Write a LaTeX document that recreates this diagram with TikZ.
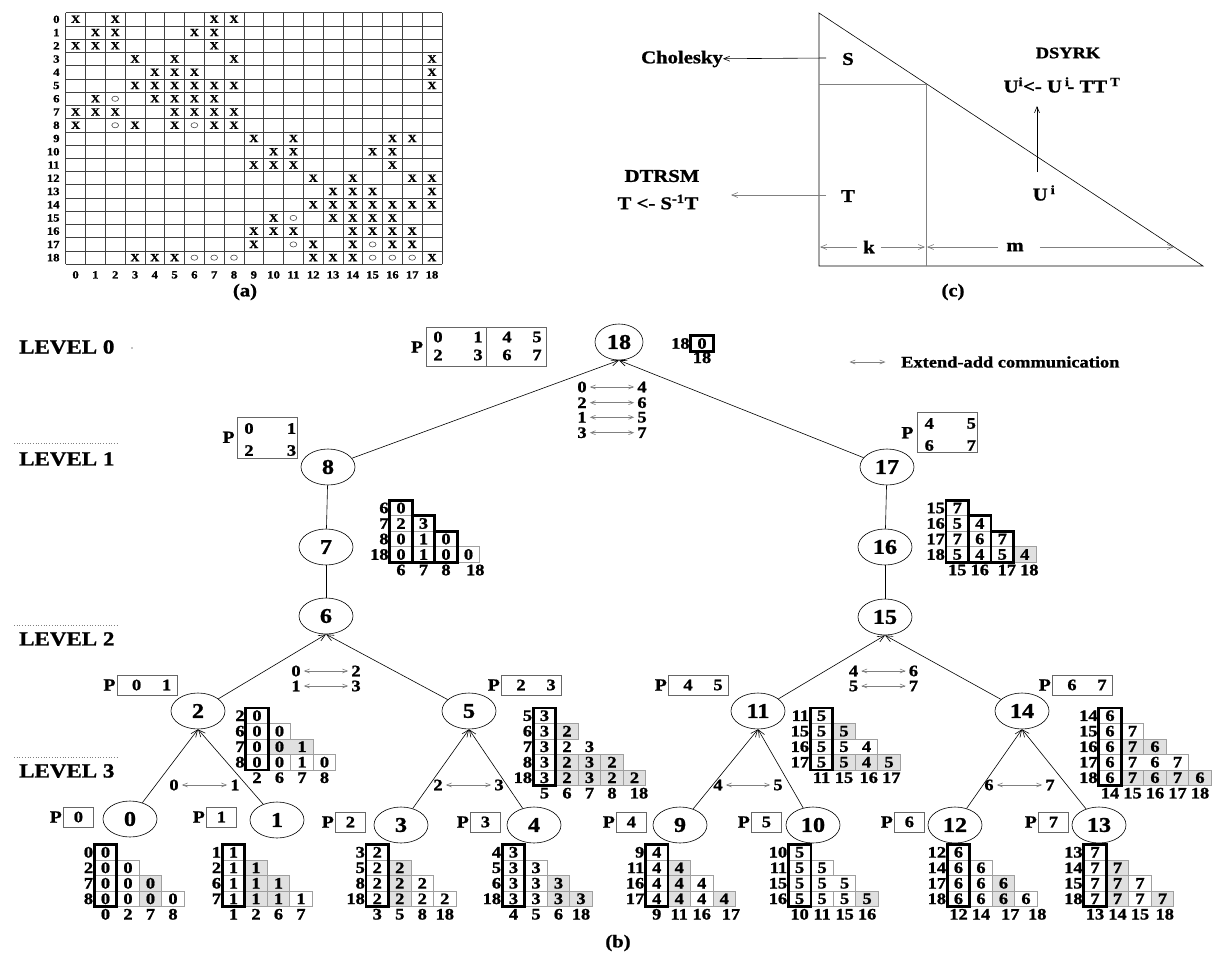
\documentclass[tikz,border=0pt]{standalone}
\usepackage{fontspec}
\setmainfont{Liberation Serif}[FakeStretch=1.15,BoldFeatures={FakeBold=1.2}]
\usetikzlibrary{shapes.geometric,arrows.meta}
\newcommand\fs[1]{\fontsize{#1}{#1}\selectfont\bfseries}
\definecolor{shadec}{gray}{0.88}
\newcommand\cellW[3]{\draw[cellb] (#1-0.5,#2-0.5) rectangle (#1+0.5,#2+0.5); \node[ctxt] at (#1,#2) {#3};}
\newcommand\cellS[3]{\filldraw[cellb,fill=shadec] (#1-0.5,#2-0.5) rectangle (#1+0.5,#2+0.5); \node[ctxt] at (#1,#2) {#3};}
\newcommand\cellT[3]{\node[ctxt] at (#1,#2) {#3};}
\newcommand\blkW[3]{\draw[cellb] (#1-0.5,#3-0.5) rectangle (#2+0.5,#3+0.5);}
\newcommand\blkS[3]{\filldraw[cellb,fill=shadec] (#1-0.5,#3-0.5) rectangle (#2+0.5,#3+0.5);}
\newcommand\rowL[2]{\node[rlab] at (-0.5,#1) {#2};}
\newcommand\colL[3]{\node[clab] at (#1,#2) {#3};}
\newcommand\thickC[3]{\draw[thickc] (#1-0.5,#2-0.5) rectangle (#1+0.5,#3+0.5);}
\newcommand\commA[6]{\node[ctxt] (#1a) at (#2,#4) {#5}; \node[ctxt] (#1b) at (#3,#4) {#6}; \draw[comm] (#1a) -- (#1b);}
\newcommand\pOne[4]{\node[plab,anchor=east] at (#1-1,#2) {P}; \node[pb,minimum width=30pt,anchor=west] (#4) at (#1,#2) {#3};}
\newcommand\pTwo[5]{\node[plab,anchor=east] at (#1-1,#2) {P}; \node[pb,minimum width=60pt,anchor=west] (#5) at (#1,#2) {}; \node[ctxt] at (#1+20,#2) {#3}; \node[ctxt] at (#1+50,#2) {#4};}
\begin{document}
\begin{tikzpicture}[x=1pt,y=-1pt,
  tn/.style={ellipse,draw,line width=0.6pt,minimum width=54pt,minimum height=36pt,inner sep=0pt,font=\fs{21}},
  cellb/.style={draw=gray!75,line width=0.8pt},
  thickc/.style={draw=black,line width=2.6pt},
  ctxt/.style={inner sep=0pt,font=\fs{16}},
  rlab/.style={anchor=east,inner sep=1pt,font=\fs{16}},
  clab/.style={inner sep=0pt,font=\fs{16}},
  tri/.style={x=22.5pt,y=-15.5pt},
  lvl/.style={anchor=west,inner sep=0pt,font=\fs{20}},
  edge/.style={-{Straight Barb[length=7pt,width=6pt]},line width=0.6pt},
  comm/.style={{Straight Barb[length=5pt,width=4pt]}-{Straight Barb[length=5pt,width=4pt]},draw=gray,line width=0.6pt,shorten <=3pt,shorten >=3pt},
  pb/.style={draw=black!60,line width=0.8pt,minimum height=20pt,inner sep=0pt,font=\fs{16}},
  plab/.style={inner sep=0pt,font=\fs{17}},
  dotl/.style={dotted,draw=gray,line width=0.7pt},
  gridl/.style={draw=black!75,line width=0.7pt},
  alab/.style={inner sep=0pt,font=\fs{11}},
  xm/.style={inner sep=0pt,font=\fs{11}},
  om/.style={draw=black!70,line width=0.6pt},
  ctext/.style={inner sep=0pt,font=\fs{18}},
  arr/.style={-{Straight Barb[length=6pt,width=5pt]},line width=0.6pt},
  captxt/.style={inner sep=0pt,font=\fs{18}}]
\useasboundingbox (0,0) rectangle (1226,956);
\fill[white] (0,0) rectangle (1226,956);

% ---------------- (a) matrix ----------------
\begin{scope}[shift={(65.7,12.7)},x=19.8pt,y=-13.24pt]
  \foreach \i in {0,...,19} {\draw[gridl] (\i,0) -- (\i,19); \draw[gridl] (0,\i) -- (19,\i);}
  \foreach \i in {0,...,18} {\node[alab,anchor=east] at (-0.3,\i+0.5) {\i}; \node[alab] at (\i+0.5,19.8) {\i};}
  \foreach \r/\lst in {0/{0,2,7,8},1/{1,2,6,7},2/{0,1,2,7},3/{3,5,8,18},4/{4,5,6,18},
     5/{3,4,5,6,7,8,18},6/{1,4,5,6,7},7/{0,1,2,5,6,7,8},8/{0,3,5,7,8},9/{9,11,16,17},
     10/{10,11,15,16},11/{9,10,11,16},12/{12,14,17,18},13/{13,14,15,18},
     14/{12,13,14,15,16,17,18},15/{10,13,14,15,16},16/{9,10,11,14,15,16,17},
     17/{9,12,14,16,17},18/{3,4,5,12,13,14,18}}
    {\foreach \c in \lst {\node[xm] at (\c+0.5,\r+0.5) {X};}}
  \foreach \r/\c in {6/2,8/2,8/6,15/11,17/11,17/15,18/6,18/7,18/8,18/15,18/16,18/17}
    {\draw[om] (\c+0.5,\r+0.5) ellipse [x radius=3.4pt,y radius=2.6pt];}
\end{scope}
\node[captxt] (capa) at (245,292) {(a)};

% ---------------- (c) ----------------
\draw[line width=0.6pt] (819,13) -- (819,266) -- (1203,266) -- cycle;
\draw[gray,line width=0.8pt] (819,84) -- (926,84) -- (926,266);
\node[ctext] (S) at (848,59) {S};
\node[ctext] (T) at (848,196) {T};
\node[ctext] (U) at (1044,193) {U\,\textsuperscript{i}};
\node[ctext] (chol) at (682,59) {Cholesky};
\node[ctext] (dtrsm) at (662,176) {DTRSM};
\node[ctext] (tse) at (658,202) {T <- S\textsuperscript{-1}T};
\node[inner sep=0pt,font=\fs{16}] (dsyrk) at (1068,53) {DSYRK};
\node[ctext] (eq) at (1062,85) {U\textsuperscript{i}<- U\,\textsuperscript{i}\kern-2pt- TT\,\textsuperscript{T}};
\node[ctext] (k) at (869,247) {k};
\node[ctext] (m) at (1015,247) {m};
\node[captxt] (capc) at (953,292) {(c)};
\coordinate (sA) at (826,58);
\draw[arr] (sA) -- (chol);
\coordinate (tA) at (826,195); \coordinate (tB) at (731,195);
\draw[arr,gray] (tA) -- (tB);
\coordinate (u1) at (1037,172); \coordinate (u2) at (1037,106);
\draw[arr] (u1) -- (u2);
\coordinate (kL) at (820,247); \coordinate (kR) at (925,247);
\coordinate (mL) at (927,247); \coordinate (mR) at (1174,247);
\draw[arr,gray,shorten <=6pt] (k) -- (kL);
\draw[arr,gray,shorten <=6pt] (k) -- (kR);
\draw[arr,gray,shorten <=8pt] (m) -- (mL);
\draw[arr,gray,shorten <=16pt] (m) -- (mR);

% ---------------- level labels ----------------
\node[lvl] (L0) at (19,347) {LEVEL 0};
\fill (132,348) circle (0.6pt);
\draw[dotl] (14,443) -- (117,443);
\node[lvl] (L1) at (19,459) {LEVEL 1};
\draw[dotl] (14,625) -- (117,625);
\node[lvl] (L2) at (19,639) {LEVEL 2};
\draw[dotl] (14,757) -- (117,757);
\node[lvl] (L3) at (19,771) {LEVEL 3};

% ---------------- tree nodes ----------------
\node[tn,minimum width=48pt] (n18) at (619,342) {18};
\node[tn] (n8) at (328,467) {8};
\node[tn] (n17) at (887,467) {17};
\node[tn] (n7) at (326,547) {7};
\node[tn] (n16) at (885,547) {16};
\node[tn] (n6) at (326,616) {6};
\node[tn] (n15) at (885,617) {15};
\node[tn] (n2) at (198,711) {2};
\node[tn] (n5) at (469,711) {5};
\node[tn] (n11) at (758,711) {11};
\node[tn] (n14) at (1022,711) {14};
\node[tn] (n0) at (130,819) {0};
\node[tn] (n1) at (277,820) {1};
\node[tn] (n3) at (401,825) {3};
\node[tn] (n4) at (534,825) {4};
\node[tn] (n9) at (680,825) {9};
\node[tn] (n10) at (813,825) {10};
\node[tn] (n12) at (955,825) {12};
\node[tn] (n13) at (1099,825) {13};

\draw[edge] (n8) -- (n18.south);
\draw[edge] (n17) -- (n18.south);
\draw[line width=0.6pt] (n8) -- (n7);
\draw[line width=0.6pt] (n7) -- (n6);
\draw[line width=0.6pt] (n17) -- (n16);
\draw[line width=0.6pt] (n16) -- (n15);
\draw[edge] (n2) -- (n6.south);
\draw[edge] (n5) -- (n6.south);
\draw[edge] (n11) -- (n15.south);
\draw[edge] (n14) -- (n15.south);
\draw[edge] (n0) -- (n2.south);
\draw[edge] (n1) -- (n2.south);
\draw[edge] (n3) -- (n5.south);
\draw[edge] (n4) -- (n5.south);
\draw[edge] (n9) -- (n11.south);
\draw[edge] (n10) -- (n11.south);
\draw[edge] (n12) -- (n14.south);
\draw[edge] (n13) -- (n14.south);

% ---------------- communication labels ----------------
\commA{ca}{582}{642}{387}{0}{4}
\commA{cb}{582}{642}{402.7}{2}{6}
\commA{cc}{582}{642}{417.3}{1}{5}
\commA{cd}{582}{642}{432.7}{3}{7}
\commA{ce}{296}{356}{671}{0}{2}
\commA{cf}{296}{356}{686}{1}{3}
\commA{cg}{853.5}{913.5}{671}{4}{6}
\commA{ch}{853.5}{913.5}{686}{5}{7}
\commA{ci}{174}{235}{785}{0}{1}
\commA{cj}{438}{499}{785}{2}{3}
\commA{ck}{718}{778}{785}{4}{5}
\commA{cl}{989}{1050}{785}{6}{7}
\coordinate (lgA) at (849.5,362); \coordinate (lgB) at (885.5,362);
\draw[comm,shorten <=0pt,shorten >=0pt] (lgA) -- (lgB);
\node[anchor=west,inner sep=0pt,font=\fs{16}] (legend) at (901,362) {Extend-add communication};

% ---------------- processor boxes ----------------
\node[plab] at (417,347) {P};
\draw[draw=black!60,line width=0.8pt] (426,327) rectangle (546.6,366.7);
\draw[draw=black!60,line width=0.8pt] (486,327) -- (486,366.7);
\foreach \xx/\yy/\t in {438/337/0,478/337/1,507/337/4,537/337/5,438/355/2,478/355/3,507/355/6,537/355/7}
  {\node[ctxt] at (\xx,\yy) {\t};}
\node[plab] at (228.5,437.3) {P};
\draw[draw=black!60,line width=0.8pt] (237,417.3) rectangle (297.6,458.3);
\foreach \xx/\yy/\t in {249/428.5/0,291.5/428.5/1,249/450.5/2,291.5/450.5/3}
  {\node[ctxt] at (\xx,\yy) {\t};}
\node[plab] at (907.4,432.7) {P};
\draw[draw=black!60,line width=0.8pt] (917.4,412.7) rectangle (977.2,452.7);
\foreach \xx/\yy/\t in {929.3/423.5/4,971.3/423.5/5,929.3/445.5/6,971.3/445.5/7}
  {\node[ctxt] at (\xx,\yy) {\t};}
\pTwo{116.6}{685}{0}{1}{pb01}
\pTwo{501}{685}{2}{3}{pb23}
\pTwo{668}{685}{4}{5}{pb45}
\pTwo{1052}{685}{6}{7}{pb67}
\pOne{63}{817}{0}{pb0}
\pOne{206}{817}{1}{pb1}
\pOne{335}{822}{2}{pb2}
\pOne{470}{822}{3}{pb3}
\pOne{616}{822}{4}{pb4}
\pOne{751}{822}{5}{pb5}
\pOne{894}{822}{6}{pb6}
\pOne{1038}{822}{7}{pb7}

% ---------------- update matrices ----------------
% level 0
\begin{scope}[shift={(702,343.5)},tri]
  \rowL{0}{18} \cellT{0}{0}{0} \colL{0}{0.92}{18} \thickC{0}{0}{0}
\end{scope}
% node 7
\begin{scope}[shift={(401,508)},tri]
  \rowL{0}{6}\rowL{1}{7}\rowL{2}{8}\rowL{3}{18}
  \cellW{0}{0}{0}
  \cellW{0}{1}{2}\cellW{1}{1}{3}
  \cellW{0}{2}{0}\cellW{1}{2}{1}\cellW{2}{2}{0}
  \cellW{0}{3}{0}\cellW{1}{3}{1}\cellW{2}{3}{0}\cellW{3}{3}{0}
  \colL{0}{4}{6}\colL{1}{4}{7}\colL{2}{4}{8}\colL{3.3}{4}{18}
  \thickC{0}{0}{3}\thickC{1}{1}{3}\thickC{2}{2}{3}
\end{scope}
% node 16
\begin{scope}[shift={(957.3,508)},tri]
  \rowL{0}{15}\rowL{1}{16}\rowL{2}{17}\rowL{3}{18}
  \cellW{0}{0}{7}
  \cellW{0}{1}{5}\cellW{1}{1}{4}
  \cellW{0}{2}{7}\cellW{1}{2}{6}\cellW{2}{2}{7}
  \cellW{0}{3}{5}\cellW{1}{3}{4}\cellW{2}{3}{5}\cellS{3}{3}{4}
  \colL{0}{4}{15}\colL{1}{4}{16}\colL{2.2}{4}{17}\colL{3.2}{4}{18}
  \thickC{0}{0}{3}\thickC{1}{1}{3}\thickC{2}{2}{3}
\end{scope}
% node 2
\begin{scope}[shift={(257,715.7)},tri]
  \rowL{0}{2}\rowL{1}{6}\rowL{2}{7}\rowL{3}{8}
  \cellW{0}{0}{0}
  \cellW{0}{1}{0}\cellW{1}{1}{0}
  \cellW{0}{2}{0}\blkS{1}{2}{2}\cellT{1}{2}{0}\cellT{2}{2}{1}
  \cellW{0}{3}{0}\cellW{1}{3}{0}\cellW{2}{3}{1}\cellW{3}{3}{0}
  \colL{0}{4}{2}\colL{1}{4}{6}\colL{2}{4}{7}\colL{3}{4}{8}
  \thickC{0}{0}{3}
\end{scope}
% node 5
\begin{scope}[shift={(544.5,715.7)},tri]
  \rowL{0}{5}\rowL{1}{6}\rowL{2}{7}\rowL{3}{8}\rowL{4}{18}
  \cellW{0}{0}{3}
  \cellW{0}{1}{3}\cellS{1}{1}{2}
  \cellW{0}{2}{3}\cellT{1}{2}{2}\cellT{2}{2}{3}
  \cellW{0}{3}{3}\cellS{1}{3}{2}\cellS{2}{3}{3}\cellS{3}{3}{2}
  \cellW{0}{4}{3}\cellS{1}{4}{2}\cellS{2}{4}{3}\cellS{3}{4}{2}\cellS{4}{4}{2}
  \colL{0}{5}{5}\colL{1}{5}{6}\colL{2}{5}{7}\colL{3}{5}{8}\colL{4.2}{5}{18}
  \thickC{0}{0}{4}
\end{scope}
% node 11
\begin{scope}[shift={(821.5,715.7)},tri]
  \rowL{0}{11}\rowL{1}{15}\rowL{2}{16}\rowL{3}{17}
  \cellW{0}{0}{5}
  \cellW{0}{1}{5}\cellS{1}{1}{5}
  \cellW{0}{2}{5}\blkW{1}{2}{2}\cellT{1}{2}{5}\cellT{2}{2}{4}
  \cellW{0}{3}{5}\cellS{1}{3}{5}\cellS{2}{3}{4}\cellS{3}{3}{5}
  \colL{0}{4}{11}\colL{1}{4}{15}\colL{2.1}{4}{16}\colL{3.1}{4}{17}
  \thickC{0}{0}{3}
\end{scope}
% node 14
\begin{scope}[shift={(1110,715.7)},tri]
  \rowL{0}{14}\rowL{1}{15}\rowL{2}{16}\rowL{3}{17}\rowL{4}{18}
  \cellW{0}{0}{6}
  \cellW{0}{1}{6}\cellW{1}{1}{7}
  \cellW{0}{2}{6}\cellS{1}{2}{7}\cellS{2}{2}{6}
  \cellW{0}{3}{6}\blkW{1}{3}{3}\cellT{1}{3}{7}\cellT{2}{3}{6}\cellT{3}{3}{7}
  \cellW{0}{4}{6}\cellS{1}{4}{7}\cellS{2}{4}{6}\cellS{3}{4}{7}\cellS{4}{4}{6}
  \colL{0}{5}{14}\colL{1}{5}{15}\colL{2}{5}{16}\colL{3}{5}{17}\colL{4}{5}{18}
  \thickC{0}{0}{4}
\end{scope}
% node 0
\begin{scope}[shift={(105.5,852.3)},tri]
  \rowL{0}{0}\rowL{1}{2}\rowL{2}{7}\rowL{3}{8}
  \cellW{0}{0}{0}
  \cellW{0}{1}{0}\cellW{1}{1}{0}
  \cellW{0}{2}{0}\cellW{1}{2}{0}\cellS{2}{2}{0}
  \cellW{0}{3}{0}\cellW{1}{3}{0}\cellS{2}{3}{0}\cellW{3}{3}{0}
  \colL{0}{4}{0}\colL{1}{4}{2}\colL{2}{4}{7}\colL{3}{4}{8}
  \thickC{0}{0}{3}
\end{scope}
% node 1
\begin{scope}[shift={(233.5,852.3)},tri]
  \rowL{0}{1}\rowL{1}{2}\rowL{2}{6}\rowL{3}{7}
  \cellW{0}{0}{1}
  \cellW{0}{1}{1}\cellS{1}{1}{1}
  \cellW{0}{2}{1}\cellS{1}{2}{1}\cellS{2}{2}{1}
  \cellW{0}{3}{1}\cellS{1}{3}{1}\cellS{2}{3}{1}\cellW{3}{3}{1}
  \colL{0}{4}{1}\colL{1}{4}{2}\colL{2}{4}{6}\colL{3}{4}{7}
  \thickC{0}{0}{3}
\end{scope}
% node 3
\begin{scope}[shift={(377.3,852.3)},tri]
  \rowL{0}{3}\rowL{1}{5}\rowL{2}{8}\rowL{3}{18}
  \cellW{0}{0}{2}
  \cellW{0}{1}{2}\cellS{1}{1}{2}
  \cellW{0}{2}{2}\cellS{1}{2}{2}\cellW{2}{2}{2}
  \cellW{0}{3}{2}\cellS{1}{3}{2}\cellW{2}{3}{2}\cellW{3}{3}{2}
  \colL{0}{4}{3}\colL{1}{4}{5}\colL{2}{4}{8}\colL{3}{4}{18}
  \thickC{0}{0}{3}
\end{scope}
% node 4
\begin{scope}[shift={(513.5,852.3)},tri]
  \rowL{0}{4}\rowL{1}{5}\rowL{2}{6}\rowL{3}{18}
  \cellW{0}{0}{3}
  \cellW{0}{1}{3}\cellW{1}{1}{3}
  \cellW{0}{2}{3}\cellW{1}{2}{3}\cellS{2}{2}{3}
  \cellW{0}{3}{3}\cellW{1}{3}{3}\cellS{2}{3}{3}\cellS{3}{3}{3}
  \colL{0}{4}{4}\colL{1}{4}{5}\colL{2}{4}{6}\colL{3}{4}{18}
  \thickC{0}{0}{3}
\end{scope}
% node 9
\begin{scope}[shift={(656.7,852.3)},tri]
  \rowL{0}{9}\rowL{1}{11}\rowL{2}{16}\rowL{3}{17}
  \cellW{0}{0}{4}
  \cellW{0}{1}{4}\cellS{1}{1}{4}
  \cellW{0}{2}{4}\cellS{1}{2}{4}\cellW{2}{2}{4}
  \cellW{0}{3}{4}\cellS{1}{3}{4}\cellW{2}{3}{4}\cellS{3}{3}{4}
  \colL{0}{4}{9}\colL{1}{4}{11}\colL{2}{4}{16}\colL{3.3}{4}{17}
  \thickC{0}{0}{3}
\end{scope}
% node 10
\begin{scope}[shift={(799.6,852.3)},tri]
  \rowL{0}{10}\rowL{1}{11}\rowL{2}{15}\rowL{3}{16}
  \cellW{0}{0}{5}
  \cellW{0}{1}{5}\cellW{1}{1}{5}
  \cellW{0}{2}{5}\blkW{1}{2}{2}\cellT{1}{2}{5}\cellT{2}{2}{5}
  \cellW{0}{3}{5}\cellW{1}{3}{5}\cellW{2}{3}{5}\cellS{3}{3}{5}
  \colL{0}{4}{10}\colL{1}{4}{11}\colL{2}{4}{15}\colL{3}{4}{16}
  \thickC{0}{0}{3}
\end{scope}
% node 12
\begin{scope}[shift={(958.5,852.3)},tri]
  \rowL{0}{12}\rowL{1}{14}\rowL{2}{17}\rowL{3}{18}
  \cellW{0}{0}{6}
  \cellW{0}{1}{6}\cellW{1}{1}{6}
  \cellW{0}{2}{6}\cellW{1}{2}{6}\cellS{2}{2}{6}
  \cellW{0}{3}{6}\cellW{1}{3}{6}\cellS{2}{3}{6}\cellW{3}{3}{6}
  \colL{0}{4}{12}\colL{1}{4}{14}\colL{2.3}{4}{17}\colL{3.5}{4}{18}
  \thickC{0}{0}{3}
\end{scope}
% node 13
\begin{scope}[shift={(1095,852.3)},tri]
  \rowL{0}{13}\rowL{1}{14}\rowL{2}{15}\rowL{3}{18}
  \cellW{0}{0}{7}
  \cellW{0}{1}{7}\cellS{1}{1}{7}
  \cellW{0}{2}{7}\cellS{1}{2}{7}\cellW{2}{2}{7}
  \cellW{0}{3}{7}\cellS{1}{3}{7}\cellW{2}{3}{7}\cellS{3}{3}{7}
  \colL{0}{4}{13}\colL{1}{4}{14}\colL{2}{4}{15}\colL{3.1}{4}{18}
  \thickC{0}{0}{3}
\end{scope}

\node[captxt] (capb) at (618,943) {(b)};
\end{tikzpicture}
\end{document}
